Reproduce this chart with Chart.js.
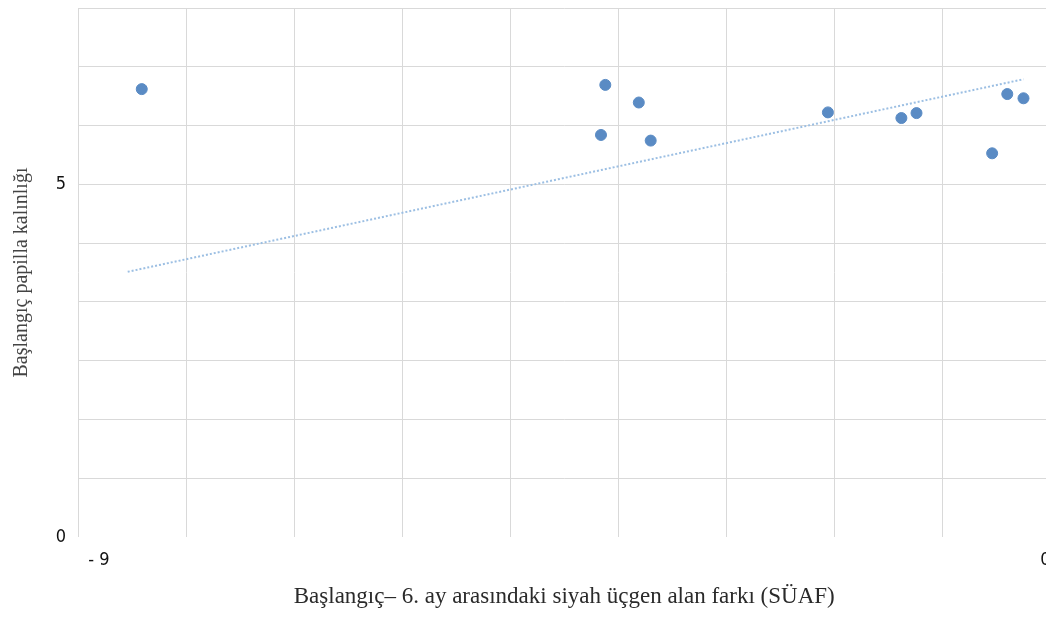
<!DOCTYPE html>
<html>
<head>
<meta charset="utf-8">
<script src="https://cdn.jsdelivr.net/npm/chart.js@4.4.1/dist/chart.umd.min.js"></script>
<style>
  html, body { margin: 0; padding: 0; background: #fff; overflow: hidden; }
  #wrap { width: 1057px; height: 617px; }
</style>
</head>
<body>
<div id="wrap"><canvas id="myScatter"></canvas></div>
<script>
// SÜAF (x) vs. initial papilla thickness (y)
const suafValues = [-8.41, -4.12, -3.81, -4.16, -3.70, -2.06, -1.38, -1.24, -0.54, -0.40, -0.25];
const papillaValues = [6.35, 6.41, 6.16, 5.70, 5.62, 6.02, 5.94, 6.01, 5.44, 6.28, 6.22];

// trendline end points
const trendX = [-8.54, -0.25];
const trendY = [3.76, 6.49];

const xTickLabels = [-9, 0];
const yTickLabels = [0, 5];

const points = suafValues.map((x, i) => ({ x: x, y: papillaValues[i] }));
const trend = trendX.map((x, i) => ({ x: x, y: trendY[i] }));

const tickFont = { family: '"DejaVu Sans Condensed", "DejaVu Sans", sans-serif', size: 18 };

const ctx = document.getElementById('myScatter');

new Chart(ctx, {
    type: 'scatter',
    data: {
        datasets: [{
            label: 'Trend',
            data: trend,
            showLine: true,
            borderColor: '#9cbfe3',
            borderWidth: 2,
            borderDash: [2, 2],
            pointRadius: 0,
            order: 2
        }, {
            label: 'Başlangıç papilla kalınlığı',
            data: points,
            backgroundColor: '#5a8bc4',
            borderColor: '#5a8bc4',
            pointRadius: 5.5,
            order: 1
        }]
    },
    options: {
        responsive: true,
        maintainAspectRatio: false,
        animation: false,
        layout: {
            padding: { left: 0, right: 0, top: 8, bottom: 0 }
        },
        plugins: {
            legend: { display: false },
            tooltip: { enabled: false }
        },
        scales: {
            x: {
                type: 'linear',
                min: -9,
                max: 0,
                border: { display: false },
                grid: {
                    color: '#d9d9d9',
                    lineWidth: 1,
                    drawTicks: false
                },
                ticks: {
                    stepSize: 1,
                    padding: 13,
                    align: 'inner',
                    maxRotation: 0,
                    autoSkip: false,
                    color: '#111',
                    font: tickFont,
                    callback: function(value) {
                        if (!xTickLabels.includes(value)) return '';
                        return value < 0 ? '  - ' + Math.abs(value) : String(value);
                    }
                },
                title: {
                    display: true,
                    text: 'Başlangıç– 6. ay arasındaki siyah üçgen alan farkı (SÜAF)',
                    color: '#2a2a2a',
                    font: { family: '"Liberation Serif", "DejaVu Serif", serif', size: 23 },
                    padding: { top: 0, bottom: 6 }
                },
                afterFit: function(scale) {
                    scale.height = 80;
                    scale.paddingLeft = 0;
                    scale.paddingRight = 0;
                }
            },
            y: {
                type: 'linear',
                min: 0,
                max: 7.5,
                border: { display: false },
                grid: {
                    color: function(c) {
                        return c.tick && c.tick.value === 0 ? 'rgba(0,0,0,0)' : '#d9d9d9';
                    },
                    lineWidth: 1,
                    drawTicks: false
                },
                ticks: {
                    stepSize: 5 / 6,
                    padding: 12,
                    autoSkip: false,
                    color: '#111',
                    font: tickFont,
                    callback: function(value) {
                        const hit = yTickLabels.find(v => Math.abs(v - value) < 1e-6);
                        return hit !== undefined ? String(hit) : '';
                    }
                },
                title: {
                    display: true,
                    text: 'Başlangıç papilla kalınlığı',
                    color: '#444',
                    font: { family: '"Liberation Serif", "DejaVu Serif", serif', size: 20 },
                    padding: { top: 10, bottom: 0 }
                },
                afterFit: function(scale) {
                    scale.width = 78;
                    scale.paddingTop = 0;
                    scale.paddingBottom = 0;
                }
            }
        }
    }
});
</script>
</body>
</html>
